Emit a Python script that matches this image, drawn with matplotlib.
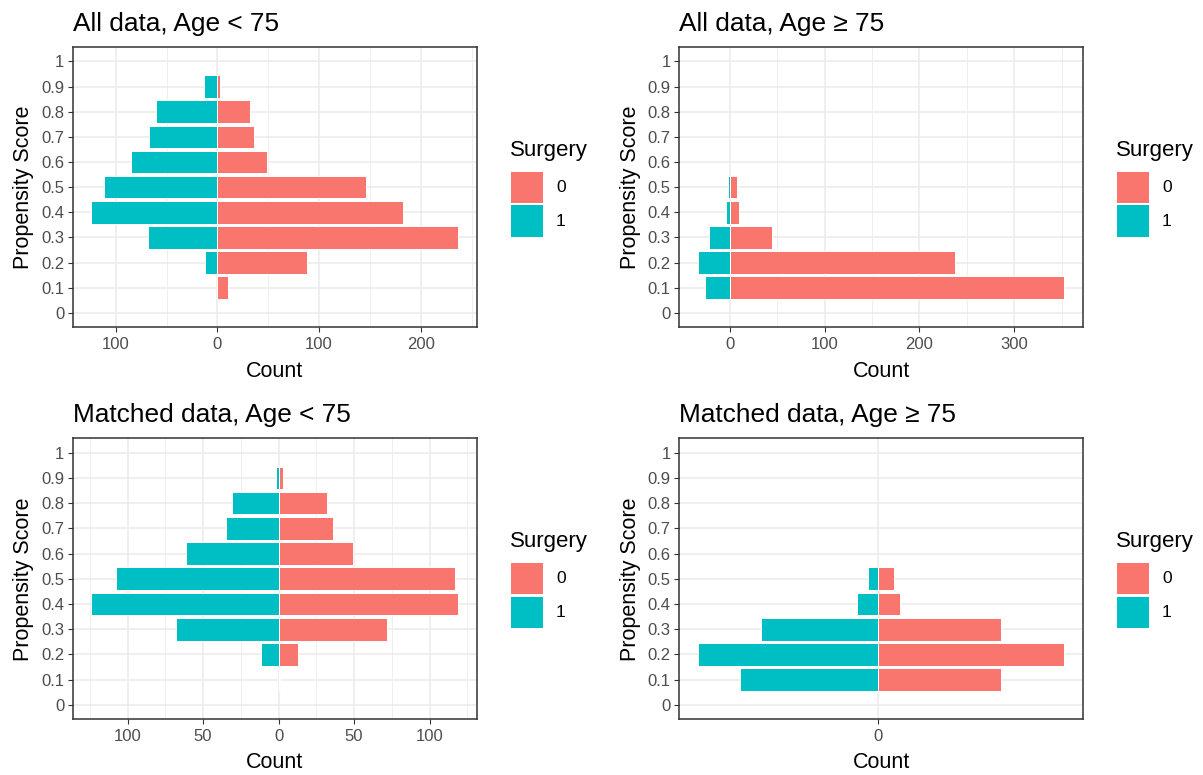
import matplotlib
matplotlib.use("Agg")
import matplotlib.pyplot as plt
from matplotlib.patches import Rectangle
from matplotlib.ticker import FixedLocator, FuncFormatter
import numpy as np

plt.rcParams['font.family'] = ['Liberation Sans', 'DejaVu Sans']

# ---------------- data ----------------
score_bins = [0.0, 0.1, 0.2, 0.3, 0.4, 0.5, 0.6, 0.7, 0.8, 0.9, 1.0]
y_tick_labels = ["0", "0.1", "0.2", "0.3", "0.4", "0.5", "0.6", "0.7", "0.8", "0.9", "1"]
surgery_levels = ["0", "1"]
surgery_colors = ["#F8766D", "#00BFC4"]

titles = ["All data, Age < 75", "All data, Age \u2265 75",
          "Matched data, Age < 75", "Matched data, Age \u2265 75"]

all_lt75_s0 = [0, 10, 88, 237, 183, 146, 49, 36, 32, 3, 0]
all_lt75_s1 = [0, 0, 12, 68, 124, 112, 85, 67, 60, 13, 0]

all_ge75_s0 = [0, 353, 238, 45, 10, 8, 0, 0, 0, 0, 0]
all_ge75_s1 = [0, 26, 34, 22, 4, 2, 0, 0, 0, 0, 0]

matched_lt75_s0 = [0, 1, 13, 72, 119, 117, 49, 36, 32, 3, 0]
matched_lt75_s1 = [0, 0, 12, 68, 124, 108, 61, 35, 31, 2, 0]

matched_ge75_s0 = [0, 23, 35, 23, 4, 3, 0, 0, 0, 0, 0]
matched_ge75_s1 = [0, 26, 34, 22, 4, 2, 0, 0, 0, 0, 0]

x_major_ticks = [[-100, 0, 100, 200], [0, 100, 200, 300],
                 [-100, -50, 0, 50, 100], [0]]
x_minor_ticks = [[-50, 50, 150, 250], [50, 150, 250, 350],
                 [-125, -75, -25, 25, 75, 125], []]

panels = [(all_lt75_s0, all_lt75_s1), (all_ge75_s0, all_ge75_s1),
          (matched_lt75_s0, matched_lt75_s1), (matched_ge75_s0, matched_ge75_s1)]

# ---------------- layout (pixels) ----------------
W, H = 1203, 775
fig = plt.figure(figsize=(W / 100, H / 100), dpi=100)

ax_boxes = [(73, 47, 476.7, 327.3), (679.3, 47, 1082.7, 327.3),
            (73, 438.3, 476.7, 719.3), (679.3, 438.3, 1082.7, 719.3)]

GRID = "#EBEBEB"
DARK = "#333333"
TICKLAB = "#4D4D4D"

for i, (box, (s0, s1)) in enumerate(zip(ax_boxes, panels)):
    x0, y0, x1, y1 = box
    ax = fig.add_axes([x0 / W, 1 - y1 / H, (x1 - x0) / W, (y1 - y0) / H])
    s0 = np.array(s0, dtype=float)
    s1 = np.array(s1, dtype=float)
    ys = np.array(score_bins)
    m0 = s0 > 0
    m1 = s1 > 0
    ax.barh(ys[m0], s0[m0], height=0.09, color=surgery_colors[0],
            edgecolor="white", linewidth=0.7, zorder=3)
    ax.barh(ys[m1], -s1[m1], height=0.09, color=surgery_colors[1],
            edgecolor="white", linewidth=0.7, zorder=3)

    lo = -s1.max()
    hi = s0.max()
    pad = 0.05 * (hi - lo)
    ax.set_xlim(lo - pad, hi + pad)
    ax.set_ylim(-0.057, 1.057)

    ax.xaxis.set_major_locator(FixedLocator(x_major_ticks[i]))
    ax.xaxis.set_minor_locator(FixedLocator(x_minor_ticks[i]))
    ax.xaxis.set_major_formatter(FuncFormatter(lambda v, p: f"{abs(int(round(v)))}"))
    ax.set_yticks(score_bins)
    ax.set_yticklabels(y_tick_labels)

    ax.grid(True, which="major", color=GRID, linewidth=1.1, zorder=0)
    ax.grid(True, which="minor", axis="x", color=GRID, linewidth=0.55, zorder=0)
    ax.set_axisbelow(True)

    ax.tick_params(axis="both", which="major", length=3.7, width=0.8, color=DARK,
                   labelcolor=TICKLAB, labelsize=12, pad=2.5)
    ax.tick_params(axis="x", which="major", pad=3.5)
    ax.tick_params(axis="x", which="minor", length=0)
    for sp in ax.spines.values():
        sp.set_color(DARK)
        sp.set_linewidth(1.1)

    ax.set_xlabel("Count", fontsize=15.5, color="black")
    ax.xaxis.set_label_coords(0.5, -(360.5 - 327.3) / (y1 - y0))
    ax.set_ylabel("Propensity Score", fontsize=15.5, color="black")
    ax.yaxis.set_label_coords(-(73 - 34.5) / (x1 - x0), 0.5)

    ax.set_title(titles[i], loc="left", fontsize=18.9, pad=11.7, color="black")

    # legend (drawn in figure pixels relative to panel)
    lx = x1 + 33.3
    dy = y0 - 47
    fig.text(lx / W, 1 - (156 + dy) / H, "Surgery", fontsize=16,
             ha="left", va="baseline", color="black")
    key_tops = [171.7, 205.5]
    for k, (lev, col) in enumerate(zip(surgery_levels, surgery_colors)):
        top = key_tops[k] + dy
        fig.add_artist(Rectangle(((lx + 1) / W, 1 - (top + 31) / H), 31.5 / W, 31 / H,
                                 transform=fig.transFigure, facecolor=col,
                                 edgecolor="none"))
        fig.text((lx + 46) / W, 1 - (top + 15.5) / H, lev, fontsize=12.5,
                 ha="left", va="center", color="black")

fig.savefig("out.png", dpi=100)
